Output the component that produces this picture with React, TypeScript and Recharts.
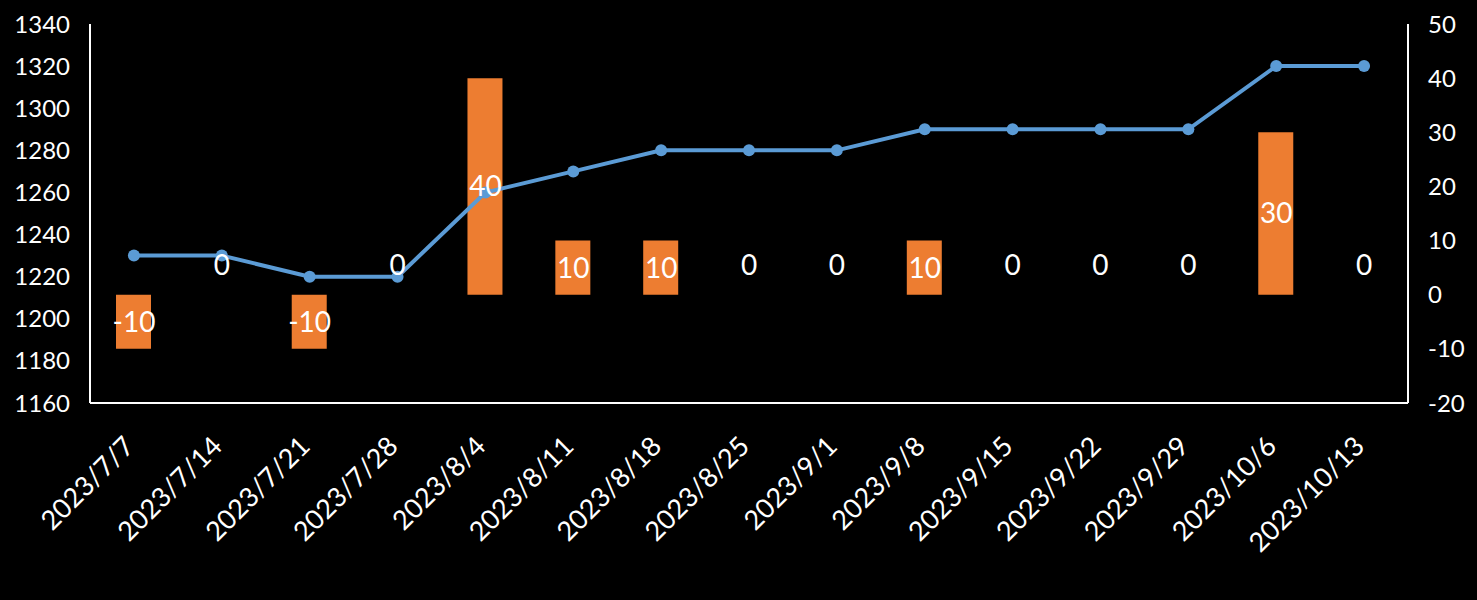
import { ComposedChart, Bar, Line, XAxis, YAxis, LabelList } from "recharts";

const FONT = "Lato, 'Open Sans', sans-serif";

const dates = [
  "2023/7/7", "2023/7/14", "2023/7/21", "2023/7/28", "2023/8/4",
  "2023/8/11", "2023/8/18", "2023/8/25", "2023/9/1", "2023/9/8",
  "2023/9/15", "2023/9/22", "2023/9/29", "2023/10/6", "2023/10/13",
];
const prices = [1230, 1230, 1220, 1220, 1260, 1270, 1280, 1280, 1280, 1290, 1290, 1290, 1290, 1320, 1320];
const changes = [-10, 0, -10, 0, 40, 10, 10, 0, 0, 10, 0, 0, 0, 30, 0];
const leftTicks = [1160, 1180, 1200, 1220, 1240, 1260, 1280, 1300, 1320, 1340];
const rightTicks = [-20, -10, 0, 10, 20, 30, 40, 50];

// label sits mid-bar; zero bars get their label just above the baseline
const data = dates.map((date, i) => ({
  date,
  price: prices[i],
  change: changes[i],
  labelPos: changes[i] === 0 ? 5.5 : changes[i] / 2,
}));

function DateTick({ x, y, payload }: any) {
  const ax = x + 2;
  const ay = y + 45;
  return (
    <text
      x={ax}
      y={ay}
      transform={`rotate(-45, ${ax}, ${ay})`}
      textAnchor="end"
      fill="#fff"
      fontSize={27}
      fontFamily={FONT}
    >
      {payload.value}
    </text>
  );
}

export default function App() {
  const tickStyle = { fill: "#fff", fontSize: 24, fontFamily: FONT };
  return (
    <div style={{ position: "absolute", left: 0, top: 0, width: 1477, height: 600, background: "#000" }}>
      <ComposedChart width={1477} height={600} data={data} margin={{ top: 24, right: 0, bottom: 0, left: 0 }}>
        <XAxis
          dataKey="date"
          height={197}
          interval={0}
          axisLine={{ stroke: "#fff", strokeWidth: 2 }}
          tickLine={false}
          tickSize={0}
          tickMargin={0}
          tick={<DateTick />}
        />
        <YAxis
          yAxisId="left"
          orientation="left"
          width={90}
          domain={[1160, 1340]}
          ticks={leftTicks}
          axisLine={{ stroke: "#fff", strokeWidth: 2 }}
          tickLine={false}
          tickSize={0}
          tickMargin={20}
          tick={tickStyle}
        />
        <YAxis
          yAxisId="right"
          orientation="right"
          width={69}
          domain={[-20, 50]}
          ticks={rightTicks}
          axisLine={{ stroke: "#fff", strokeWidth: 2 }}
          tickLine={false}
          tickSize={0}
          tickMargin={20}
          tick={tickStyle}
        />
        <Bar yAxisId="right" dataKey="change" fill="#ED7D31" barSize={35} isAnimationActive={false} />
        <Line
          yAxisId="left"
          dataKey="price"
          stroke="#5B9BD5"
          strokeWidth={4}
          dot={{ r: 6, fill: "#5B9BD5", stroke: "none" }}
          activeDot={false}
          isAnimationActive={false}
        />
        <Line
          yAxisId="right"
          dataKey="labelPos"
          stroke="none"
          dot={false}
          activeDot={false}
          isAnimationActive={false}
        >
          <LabelList dataKey="change" position="center" fill="#fff" fontSize={28} fontFamily={FONT} />
        </Line>
      </ComposedChart>
    </div>
  );
}
